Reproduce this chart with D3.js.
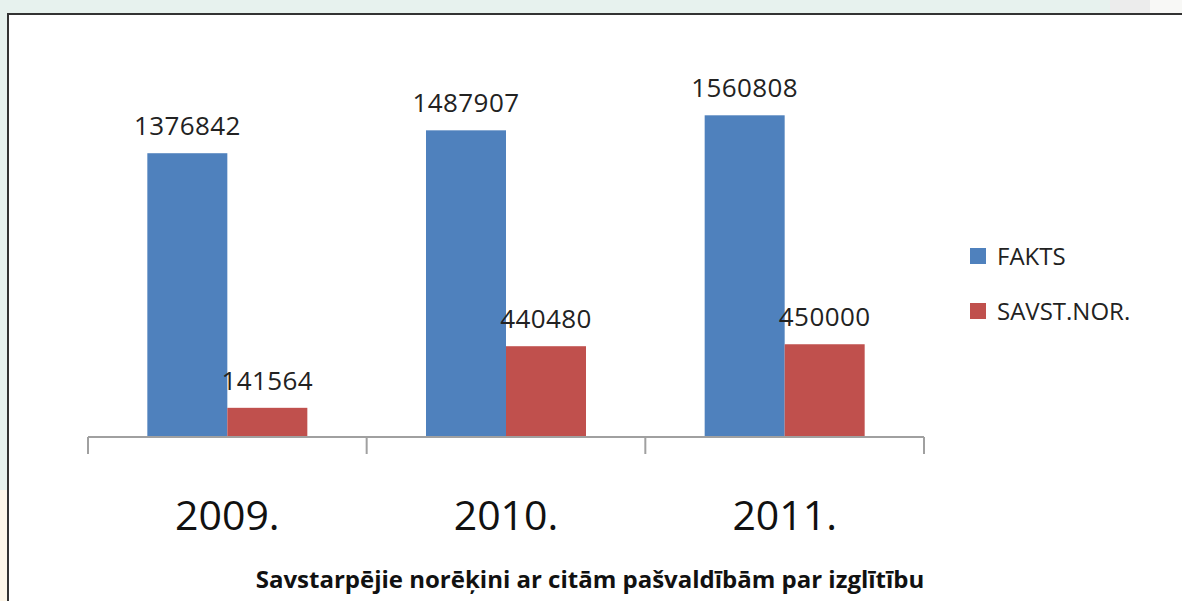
<!DOCTYPE html>
<html>
<head>
<meta charset="utf-8">
<script src="https://cdn.jsdelivr.net/npm/d3@7"></script>
<style>
  html, body { margin: 0; padding: 0; background: #e7f2ee; overflow: hidden; }
  svg { display: block; }
</style>
</head>
<body>
<svg id="chart" width="1182" height="601"></svg>
<script>
const years = ["2009.", "2010.", "2011."];
const series = ["FAKTS", "SAVST.NOR."];
const colors = ["#4f81bd", "#c0504d"];
const fakts = [1376842, 1487907, 1560808];
const savst = [141564, 440480, 450000];
const title = "Savstarpējie norēķini ar citām pašvaldībām par izglītību";

const font = "'Open Sans', 'Liberation Sans', sans-serif";
const width = 1182, height = 601;
const axisY = 437, plotTop = 66,
      axisLeft = 88, axisRight = 924,
      barWidth = 80;

const svg = d3.select("#chart");

// background pieces outside the frame
svg.append("rect")
    .attr("x", 0).attr("y", 0)
    .attr("width", width).attr("height", height)
    .attr("fill", "#e7f2ee");
svg.append("rect")
    .attr("x", 0).attr("y", 490)
    .attr("width", 8).attr("height", height - 490)
    .attr("fill", "#fdf6e9");
svg.append("rect")
    .attr("x", 1110).attr("y", 0)
    .attr("width", 72).attr("height", 14)
    .attr("fill", "#ececec");
svg.append("rect")
    .attr("x", 1150).attr("y", 0)
    .attr("width", 32).attr("height", 14)
    .attr("fill", "#f8f8f6");

// chart frame
svg.append("rect")
    .attr("x", 8).attr("y", 14)
    .attr("width", width + 10).attr("height", height)
    .attr("fill", "#fff")
    .attr("stroke", "#333")
    .attr("stroke-width", 2);

const x0 = d3.scaleBand()
    .domain(years)
    .range([axisLeft, axisRight]);

const x1 = d3.scaleBand()
    .domain(series)
    .range([x0.bandwidth() / 2 - barWidth, x0.bandwidth() / 2 + barWidth]);

const y = d3.scaleLinear()
    .domain([0, 1800000])
    .range([axisY, plotTop]);

const data = years.map((yr, i) => ({
    year: yr,
    values: [
        {key: series[0], value: fakts[i]},
        {key: series[1], value: savst[i]}
    ]
}));

const groups = svg.selectAll(".group")
    .data(data)
    .enter().append("g")
    .attr("class", "group")
    .attr("transform", d => `translate(${x0(d.year)},0)`);

groups.selectAll("rect")
    .data(d => d.values)
    .enter().append("rect")
    .attr("x", d => x1(d.key))
    .attr("y", d => y(d.value))
    .attr("width", x1.bandwidth())
    .attr("height", d => axisY - y(d.value))
    .attr("fill", (d, i) => colors[i]);

groups.selectAll(".val")
    .data(d => d.values)
    .enter().append("text")
    .attr("class", "val")
    .attr("x", d => x1(d.key) + x1.bandwidth() / 2)
    .attr("y", d => y(d.value) - 18)
    .attr("text-anchor", "middle")
    .attr("font-family", font)
    .attr("font-size", 26)
    .attr("letter-spacing", 0.4)
    .attr("fill", "#222")
    .text(d => d.value);

// axis
const axis = svg.append("g");
axis.append("line")
    .attr("x1", axisLeft).attr("x2", axisRight)
    .attr("y1", axisY).attr("y2", axisY)
    .attr("stroke", "#a0a0a0")
    .attr("stroke-width", 2);

const tickPos = years.map(d => x0(d)).concat([x0(years[years.length - 1]) + x0.step()]);
axis.selectAll(".tick")
    .data(tickPos)
    .enter().append("line")
    .attr("class", "tick")
    .attr("x1", d => d).attr("x2", d => d)
    .attr("y1", axisY).attr("y2", axisY + 17)
    .attr("stroke", "#a0a0a0")
    .attr("stroke-width", 2);

axis.selectAll(".year")
    .data(years)
    .enter().append("text")
    .attr("class", "year")
    .attr("x", d => x0(d) + x0.bandwidth() / 2)
    .attr("y", 530)
    .attr("text-anchor", "middle")
    .attr("font-family", font)
    .attr("font-size", 41)
    .attr("fill", "#111")
    .text(d => d);

// legend
const legend = svg.selectAll(".legend")
    .data(series)
    .enter().append("g")
    .attr("class", "legend")
    .attr("transform", (d, i) => `translate(970,${256 + i * 55})`);

legend.append("rect")
    .attr("x", 0).attr("y", -8)
    .attr("width", 16).attr("height", 16)
    .attr("fill", (d, i) => colors[i]);

legend.append("text")
    .attr("x", 27)
    .attr("y", 9)
    .attr("font-family", font)
    .attr("font-size", 24)
    .attr("fill", "#222")
    .text(d => d);

// title
svg.append("text")
    .attr("x", 590)
    .attr("y", 588)
    .attr("text-anchor", "middle")
    .attr("font-family", font)
    .attr("font-size", 24)
    .attr("font-weight", "bold")
    .attr("fill", "#111")
    .text(title);
</script>
</body>
</html>
